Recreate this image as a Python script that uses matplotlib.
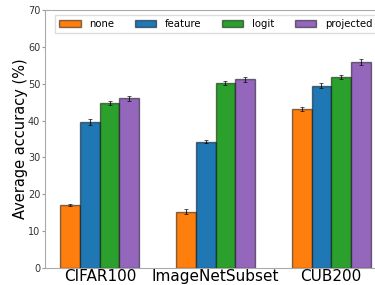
import matplotlib.pyplot as plt
import numpy as np

datasets = ["CIFAR100", "ImageNetSubset", "CUB200"]
methods = ["none", "feature", "logit", "projected"]
colors = ["tab:orange", "tab:blue", "tab:green", "tab:purple"]

acc_none = [17.0, 15.3, 43.2]
acc_feature = [39.6, 34.3, 49.5]
acc_logit = [44.7, 50.2, 51.8]
acc_projected = [46.1, 51.2, 55.9]

err_none = [0.3, 0.6, 0.6]
err_feature = [0.8, 0.5, 0.7]
err_logit = [0.6, 0.6, 0.5]
err_projected = [0.7, 0.6, 0.7]

means = [acc_none, acc_feature, acc_logit, acc_projected]
errs = [err_none, err_feature, err_logit, err_projected]

fig = plt.figure(figsize=(3.75, 2.85), dpi=100)
ax = fig.add_axes([45 / 375, 17 / 285, 341 / 375, 258 / 285])

x = np.arange(len(datasets))
width = 0.17
for i, (name, color) in enumerate(zip(methods, colors)):
    ax.bar(
        x + (i - 1.5) * width,
        means[i],
        width,
        yerr=errs[i],
        color=color,
        edgecolor=(0, 0, 0, 0.5),
        linewidth=1.0,
        capsize=1.5,
        error_kw=dict(elinewidth=0.8, capthick=0.6, ecolor=(0, 0, 0, 0.75)),
        label=name,
    )

ax.set_ylim(0, 70)
ax.set_yticks(range(0, 71, 10))
ax.set_xticks(x)
ax.set_xticklabels(datasets, fontsize=11)
ax.tick_params(axis="x", length=0, pad=1)
ax.tick_params(axis="y", labelsize=7, length=2, color="#999999", labelcolor="#333333", pad=1.5)
ax.set_ylabel("Average accuracy (%)", fontsize=10.5, labelpad=0)
for s in ax.spines.values():
    s.set_color("#aaaaaa")

ax.legend(
    loc="upper left",
    bbox_to_anchor=(0.015, 1.0),
    ncol=4,
    fontsize=7.3,
    handlelength=2.1,
    handleheight=0.7,
    handletextpad=0.85,
    columnspacing=2.05,
    borderpad=0.4,
    borderaxespad=0.5,
    fancybox=False,
    framealpha=1,
    edgecolor="#dddddd",
)

fig.savefig("out.png", dpi=100)
